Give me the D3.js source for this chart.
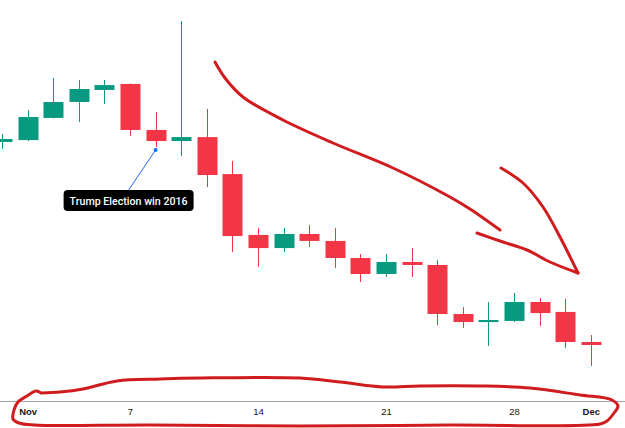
<!DOCTYPE html>
<meta charset='utf-8'>
<style>
  body { margin:0; background:#fff; }
  .tick text { font-family:'Liberation Sans', Arial, sans-serif; font-size:9.5px; fill:#131722; }
  .tick text.month { font-weight:bold; }
  .note text { font-family:Roboto, 'Liberation Sans', sans-serif; font-size:11.5px; font-weight:500; fill:#fff; }
</style>
<body>
  <script src='https://d3js.org/d3.v7.min.js' charset='utf-8'></script>
  <script>

    // daily candles, Oct 31 - Dec 1 2016
    var dates  = ['2016-10-31','2016-11-01','2016-11-02','2016-11-03','2016-11-04',
                  '2016-11-07','2016-11-08','2016-11-09','2016-11-10','2016-11-11',
                  '2016-11-14','2016-11-15','2016-11-16','2016-11-17','2016-11-18',
                  '2016-11-21','2016-11-22','2016-11-23','2016-11-24','2016-11-25',
                  '2016-11-28','2016-11-29','2016-11-30','2016-12-01'];
    var opens  = [1272.4,1273.4,1285.2,1293.7,1300.1, 1303.3,1278.8,1272.9,1275.0,1255.3,
                  1222.9,1215.9,1223.4,1219.7,1210.6, 1202.1,1208.5,1206.9,1180.8,1176.5,
                  1177.1,1187.2,1181.9,1165.9];
    var highs  = [1276.6,1289.4,1306.5,1305.4,1305.4, 1303.5,1288.4,1336.8,1290.0,1262.3,
                  1226.6,1226.6,1228.2,1226.6,1212.7, 1212.7,1215.9,1209.5,1184.5,1187.2,
                  1192.0,1189.3,1188.8,1169.6];
    var lows   = [1268.7,1272.9,1285.0,1283.0,1292.6, 1275.6,1269.7,1264.9,1248.4,1213.8,
                  1205.8,1213.8,1216.5,1205.3,1197.8, 1200.5,1200.5,1174.9,1173.3,1163.8,
                  1176.5,1174.4,1162.7,1153.1];
    var closes = [1274.0,1285.7,1293.7,1300.6,1302.7, 1278.8,1272.9,1275.0,1254.8,1222.3,
                  1215.9,1223.4,1219.7,1210.6,1202.1, 1208.5,1206.9,1180.8,1176.5,1177.6,
                  1187.2,1181.3,1165.9,1164.3];

    var tickDates  = ['2016-11-01','2016-11-07','2016-11-14','2016-11-21','2016-11-28','2016-12-01'];
    var tickLabels = ['Nov','7','14','21','28','Dec'];

    var noteDate = '2016-11-08';
    var noteText = 'Trump Election win 2016';

    // freehand drawings on top of the chart (screen coords)
    var drawings = [
      [[215,62],[225,78],[243,97],[283,120],[333,143],[393,168],[450,197],[470,209],[500,230]],
      [[501,168],[523,183],[543,207],[560,237],[578,273]],
      [[477,233],[503,242],[527,250],[550,262],[578,273]],
      [[41,393],[36,391],[27,396],[18,402],[14,410],[13,419],[19,423],[34,425],[150,425],[300,426],
       [450,425],[600,424],[607,421],[614,413],[618,406],[612,400],[580,395],[530,388],[480,386],
       [420,386],[383,387],[340,382],[300,378],[200,378],[160,379],[117,381],[83,389],[60,392],[41,393]]
    ];

    var width = 625;
    var height = 428;
    var axisY = 401;

    var svg = d3.select('body').append('svg')
      .attr('width', width)
      .attr('height', height);

    var x = d3.scalePoint().domain(dates).range([2, 2 + 23 * 25.6]);
    var y = d3.scaleLinear().domain([1135, 1348]).range([400, 0]);
    var bodyW = 20;

    var data = dates.map((d, i) => ({date:d, o:opens[i], h:highs[i], l:lows[i], c:closes[i]}));
    var color = d => d.c >= d.o ? '#089981' : '#f23645';

    var candles = svg.append('g').selectAll('g').data(data).join('g');
    candles.append('line')
      .attr('x1', d => Math.round(x(d.date)) + 0.5)
      .attr('x2', d => Math.round(x(d.date)) + 0.5)
      .attr('y1', d => y(d.h))
      .attr('y2', d => y(d.l))
      .attr('stroke', color);
    candles.append('rect')
      .attr('x', d => Math.round(x(d.date)) + 0.5 - bodyW / 2)
      .attr('y', d => y(Math.max(d.o, d.c)))
      .attr('width', bodyW)
      .attr('height', d => Math.max(2, Math.abs(y(d.o) - y(d.c))))
      .attr('fill', color);

    // time axis
    svg.append('line')
      .attr('x1', 0).attr('x2', width)
      .attr('y1', axisY + 0.5).attr('y2', axisY + 0.5)
      .attr('stroke', '#a3a6af');
    var axis = svg.append('g')
      .attr('transform', 'translate(0,' + axisY + ')')
      .call(d3.axisBottom(x)
        .tickValues(tickDates)
        .tickSize(0)
        .tickPadding(7)
        .tickFormat((d, i) => tickLabels[i]));
    axis.select('.domain').remove();
    axis.selectAll('.tick text').attr('font-family', null).attr('font-size', null)
      .classed('month', (d, i) => isNaN(+tickLabels[i]));

    // note callout
    var nd = data.find(d => d.date === noteDate);
    var ax = x(nd.date), ay = y(nd.l) + 3;
    var note = svg.append('g').attr('class', 'note');
    note.append('line')
      .attr('x1', ax).attr('y1', ay)
      .attr('x2', ax - 27).attr('y2', ay + 40)
      .attr('stroke', '#2962ff').attr('stroke-width', 1);
    note.append('circle').attr('cx', ax).attr('cy', ay).attr('r', 2).attr('fill', '#2962ff');
    note.append('rect')
      .attr('x', ax - 92).attr('y', ay + 40)
      .attr('width', 130).attr('height', 21)
      .attr('rx', 4).attr('fill', '#000');
    note.append('text')
      .attr('x', ax - 27).attr('y', ay + 50.5)
      .attr('text-anchor', 'middle')
      .attr('dy', '0.35em')
      .attr('textLength', 118)
      .attr('lengthAdjust', 'spacingAndGlyphs')
      .text(noteText);

    // red freehand marks
    var pen = d3.line().curve(d3.curveCatmullRom.alpha(0.5));
    svg.append('g').selectAll('path').data(drawings).join('path')
      .attr('d', pen)
      .attr('fill', 'none')
      .attr('stroke', '#d01c1f')
      .attr('stroke-width', 3)
      .attr('stroke-linecap', 'round')
      .attr('stroke-linejoin', 'round');
  </script>
</body>
